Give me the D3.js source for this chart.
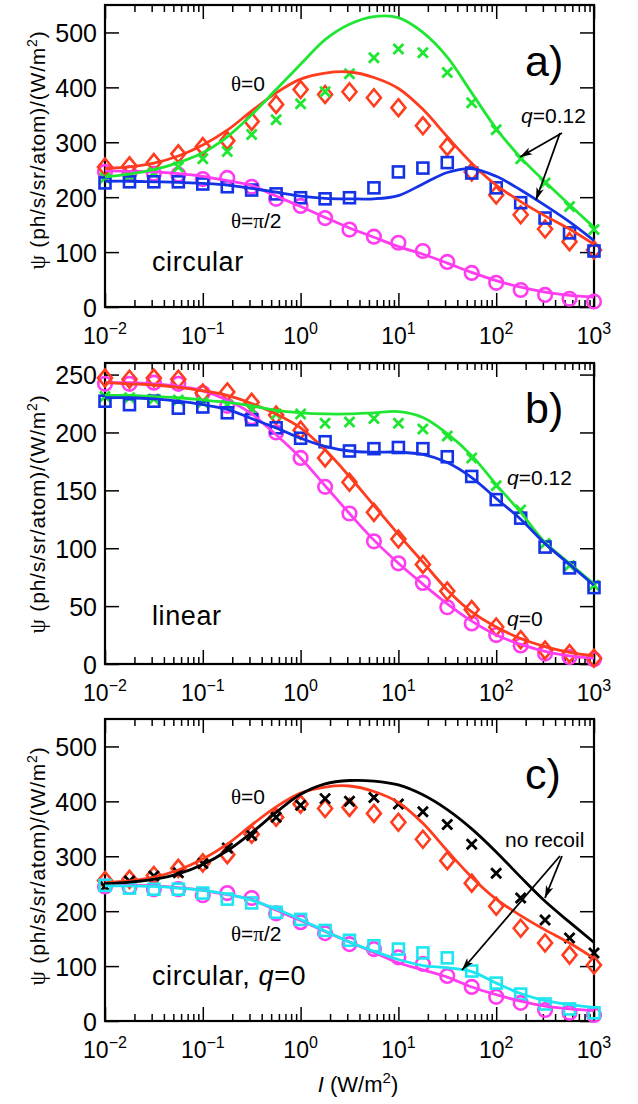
<!DOCTYPE html>
<html><head><meta charset="utf-8">
<script src="https://cdn.jsdelivr.net/npm/d3@7"></script>
<style>
body{margin:0;background:#fff}
svg{display:block}
text{font-family:"Liberation Sans",Arial,Helvetica,sans-serif;fill:#000}
.gr{font-family:"Liberation Serif","Times New Roman",serif}
</style>
</head><body>
<svg id="chart" width="638" height="1104"></svg>
<script>
// ---------- data ----------
const intensity = [0.01,0.0178,0.0316,0.0562,0.1,0.178,0.316,0.562,1,1.78,3.16,5.62,10,17.8,31.6,56.2,100,178,316,562,1000];
const xTickExponents = [-2,-1,0,1,2,3];
const yTicksAC = [0,100,200,300,400,500];
const yTicksB = [0,50,100,150,200,250];

// panel a (circular)
const aRedLine    = [252,255,262,275,295,322,357,390,415,426,428,418,398,360,310,262,222,192,166,142,114];
const aRedPts     = [255,257,263,279,292,303,338,369,396,387,392,381,363,330,292,246,204,168,142,119,104];
const aGreenLine  = [237,242,250,263,281,310,350,396,442,487,515,529,527,500,455,390,325,272,228,186,145];
const aGreenPts   = [235,238,245,255,270,283,314,341,370,392,425,454,470,463,427,372,323,270,226,183,141];
const aBlueLine   = [229,229,228,227,225,222,216,209,202,198,197,197,203,224,245,252,238,213,185,155,121];
const aBluePts    = [226,228,228,228,224,219,213,206,199,197,199,217,246,253,263,244,217,190,162,135,102];
const aMagLine    = [248,247,246,243,238,230,221,202,183,163,144,127,110,96,80,63,48,36,27,21,18];
const aMagPts     = [246,244,243,241,233,235,219,197,184,162,141,128,117,102,82,62,44,31,22,15,10];

// panel b (linear)
const bRedLine    = [243,242,241,239,236,232,225,216,204,185,162,137,112,88,64,45,32,22,15,10,7];
const bRedPts     = [247,246,247,246,234,235,226,215,202,178,157,131,108,86,63,47,32,21,12,9,5];
const bGreenLine  = [232,232,231,230,228,226,223,219,217,216,216,217,218,213,199,180,155,131,105,87,69];
const bGreenPts   = [231,230,229,228,226,224,220,216,216,208,209,212,208,203,197,178,154,133,104,85,68];
const bBlueLine   = [230,230,229,227,224,220,212,204,195,188,184,183,183,181,174,161,143,125,104,86,68];
const bBluePts    = [227,224,227,221,222,217,211,204,195,192,184,186,187,186,179,162,142,126,101,83,66];
const bMagLine    = [243,243,242,240,236,228,216,198,178,154,130,107,87,69,52,37,25,17,11,7,5];
const bMagPts     = [242,242,243,242,234,223,213,200,178,153,130,106,87,70,49,35,25,16,9,6,4];

// panel c (circular, q=0)
const cBlackLine  = [250,253,258,268,285,310,343,380,413,432,438,437,430,412,385,350,308,262,218,180,143];
const cBlackPts   = [245,255,264,270,287,315,338,371,393,405,400,407,395,381,358,322,269,224,184,151,124];
const cRedLine    = [252,255,262,275,295,322,357,390,415,426,428,418,398,360,310,262,222,192,166,142,114];
const cRedPts     = [256,258,265,278,288,303,340,371,395,387,389,378,362,331,292,251,209,169,142,120,102];
const cCyanLine   = [246,246,245,242,238,231,220,204,185,164,144,127,112,101,97,90,69,50,37,30,25];
const cCyanPts    = [247,242,240,240,233,222,215,198,185,165,147,137,131,124,115,91,69,49,31,22,15];
const cMagLine    = [248,247,246,243,238,230,221,202,183,163,144,125,106,93,80,62,48,36,27,22,19];
const cMagPts     = [245,244,240,240,229,233,224,196,180,160,140,131,116,104,82,62,44,33,20,15,11];

// ---------- drawing ----------
const svg = d3.select("#chart");
const COL = {red:"#ff3c1e", green:"#1ee632", blue:"#1432e6", mag:"#ff3cf0", cyan:"#1ee6f0", black:"#000"};
const xScale = d3.scaleLog().domain([0.01,1000]).range([105,594]);
const minorTicks = [];
xTickExponents.slice(0,-1).forEach(e => { for (let m=2;m<10;m++) minorTicks.push(m*Math.pow(10,e)); });

function addParts(el, parts) {
  parts.forEach(pt => {
    const ts = el.append("tspan").text(pt.s);
    if (pt.it) ts.attr("font-style","italic");
    if (pt.gr) ts.attr("class","gr");
    if (pt.fs) ts.attr("font-size",pt.fs);
    if (pt.dy) ts.attr("dy",pt.dy);
  });
}

function drawPanel(p) {
  const g = svg.append("g");
  const y = d3.scaleLinear().domain(p.yDomain).range(p.yRange);
  const yb = p.yRange[0], yt = p.yRange[1];
  const x = xScale;

  const ax = (gen, tr) => { const a = g.append("g").attr("transform", tr).call(gen); a.select(".domain").remove(); a.selectAll("line").attr("stroke","#000").attr("stroke-width",1.5); return a; };
  const majors = xTickExponents.map(e => Math.pow(10,e));
  ax(d3.axisBottom(x).tickValues(majors).tickSize(-14).tickFormat(""), `translate(0,${yb})`);
  ax(d3.axisBottom(x).tickValues(minorTicks).tickSize(-7).tickFormat(""), `translate(0,${yb})`);
  ax(d3.axisTop(x).tickValues(majors).tickSize(-14).tickFormat(""), `translate(0,${yt})`);
  ax(d3.axisTop(x).tickValues(minorTicks).tickSize(-7).tickFormat(""), `translate(0,${yt})`);
  const yl = ax(d3.axisLeft(y).tickValues(p.yTicks).tickSize(-14).tickSizeOuter(0).tickPadding(8).tickFormat(d3.format("d")), `translate(105,0)`);
  yl.selectAll("text").attr("font-size",25).attr("font-family","Liberation Sans, Arial, sans-serif").attr("fill","#000").attr("dy","0.36em");
  ax(d3.axisRight(y).tickValues(p.yTicks).tickSize(-14).tickFormat(""), `translate(594,0)`);

  g.append("rect").attr("x",105).attr("y",yt).attr("width",594-105).attr("height",yb-yt)
    .attr("fill","none").attr("stroke","#000").attr("stroke-width",2.2);

  majors.forEach((v,i) => {
    const t = g.append("text").attr("x", x(v)).attr("y", yb + p.xLabelDy).attr("text-anchor","middle").attr("font-size",23);
    t.append("tspan").text("10");
    t.append("tspan").attr("dy",-10).attr("font-size",16).text(xTickExponents[i] < 0 ? "\u2212" + Math.abs(xTickExponents[i]) : String(xTickExponents[i]));
  });

  const ty = g.append("text").attr("transform", `translate(45,${p.titleY}) rotate(-90)`).attr("text-anchor","middle").attr("font-size",21).attr("letter-spacing",0.8);
  addParts(ty, [{s:"\u03c8",gr:true,fs:23},{s:"  (ph/s/sr/atom)/(W/m"},{s:"2",fs:14,dy:-8},{s:")",dy:8}]);

  const line = d3.line().x((d,i) => x(intensity[i])).y(d => y(d)).curve(d3.curveCatmullRom.alpha(0.5));

  const mk = (vals, type, color) => {
    const m = g.append("g").attr("fill","none").attr("stroke",color).attr("stroke-width",2.6);
    vals.forEach((v,i) => {
      const cx = x(intensity[i]), cy = y(v);
      if (type === "diamond") m.append("path").attr("d", `M${cx},${cy-8.5}L${cx+7},${cy}L${cx},${cy+8.5}L${cx-7},${cy}Z`);
      else if (type === "square") m.append("rect").attr("x",cx-5.5).attr("y",cy-5.5).attr("width",11).attr("height",11);
      else if (type === "circle") m.append("circle").attr("cx",cx).attr("cy",cy).attr("r",6.8);
      else if (type === "x") m.append("path").attr("d", `M${cx-5},${cy-5}L${cx+5},${cy+5}M${cx-5},${cy+5}L${cx+5},${cy-5}`).attr("stroke-width",2.8);
    });
  };
  p.series.forEach(s => mk(s.pts, s.marker, s.color));
  p.series.forEach(s => g.append("path").attr("d", line(s.line)).attr("fill","none").attr("stroke",s.color).attr("stroke-width",2.8));

  p.texts.forEach(t => {
    const el = g.append("text").attr("x",t.x).attr("y",t.y).attr("font-size",t.size);
    if (t.ls) el.attr("letter-spacing", t.ls);
    addParts(el, t.parts);
  });
  (p.arrows||[]).forEach(a => {
    const [x1,y1,x2,y2] = a;
    g.append("line").attr("x1",x1).attr("y1",y1).attr("x2",x2).attr("y2",y2).attr("stroke","#000").attr("stroke-width",1.8);
    const ang = Math.atan2(y2-y1, x2-x1), L = 13, W = 0.3;
    g.append("path").attr("d", `M${x2},${y2}L${x2-L*Math.cos(ang-W)},${y2-L*Math.sin(ang-W)}L${x2-L*0.7*Math.cos(ang)},${y2-L*0.7*Math.sin(ang)}L${x2-L*Math.cos(ang+W)},${y2-L*Math.sin(ang+W)}Z`).attr("fill","#000");
  });
}

drawPanel({
  yDomain:[0,550], yRange:[307,5], yTicks:yTicksAC, xLabelDy:37, titleY:150,
  series:[
    {line:aMagLine, pts:aMagPts, marker:"circle", color:COL.mag},
    {line:aRedLine, pts:aRedPts, marker:"diamond", color:COL.red},
    {line:aGreenLine, pts:aGreenPts, marker:"x", color:COL.green},
    {line:aBlueLine, pts:aBluePts, marker:"square", color:COL.blue}
  ],
  texts:[
    {x:525,y:76,size:43,parts:[{s:"a)"}]},
    {x:231,y:91,size:21,parts:[{s:"\u03b8",gr:true},{s:"=0"}]},
    {x:231,y:228,size:21,parts:[{s:"\u03b8",gr:true},{s:"="},{s:"\u03c0",gr:true},{s:"/2"}]},
    {x:152,y:271,size:27,ls:0.6,parts:[{s:"circular"}]},
    {x:521,y:123,size:21,parts:[{s:"q",it:true},{s:"=0.12"}]}
  ],
  arrows:[[562,133,520,157],[560,133,536,200]]
});

drawPanel({
  yDomain:[0,260], yRange:[664,363], yTicks:yTicksB, xLabelDy:37, titleY:514,
  series:[
    {line:bMagLine, pts:bMagPts, marker:"circle", color:COL.mag},
    {line:bRedLine, pts:bRedPts, marker:"diamond", color:COL.red},
    {line:bGreenLine, pts:bGreenPts, marker:"x", color:COL.green},
    {line:bBlueLine, pts:bBluePts, marker:"square", color:COL.blue}
  ],
  texts:[
    {x:525,y:423,size:43,parts:[{s:"b)"}]},
    {x:507,y:485,size:21,parts:[{s:"q",it:true},{s:"=0.12"}]},
    {x:507,y:626,size:21,parts:[{s:"q",it:true},{s:"=0"}]},
    {x:152,y:625,size:27,ls:0.6,parts:[{s:"linear"}]}
  ]
});

drawPanel({
  yDomain:[0,550], yRange:[1021,719], yTicks:yTicksAC, xLabelDy:37, titleY:866,
  series:[
    {line:cMagLine, pts:cMagPts, marker:"circle", color:COL.mag},
    {line:cRedLine, pts:cRedPts, marker:"diamond", color:COL.red},
    {line:cBlackLine, pts:cBlackPts, marker:"x", color:COL.black},
    {line:cCyanLine, pts:cCyanPts, marker:"square", color:COL.cyan}
  ],
  texts:[
    {x:525,y:789,size:43,parts:[{s:"c)"}]},
    {x:231,y:804,size:21,parts:[{s:"\u03b8",gr:true},{s:"=0"}]},
    {x:231,y:941,size:21,parts:[{s:"\u03b8",gr:true},{s:"="},{s:"\u03c0",gr:true},{s:"/2"}]},
    {x:152,y:985,size:27,ls:0.6,parts:[{s:"circular, "},{s:"q",it:true},{s:"=0"}]},
    {x:505,y:847,size:21,parts:[{s:"no recoil"}]}
  ],
  arrows:[[562,856,545,898],[560,856,462,970]]
});

const xt = svg.append("text").attr("x",358).attr("y",1092).attr("text-anchor","middle").attr("font-size",22);
addParts(xt, [{s:"I",it:true},{s:" (W/m"},{s:"2",fs:15,dy:-9},{s:")",dy:9}]);
</script>
</body></html>
